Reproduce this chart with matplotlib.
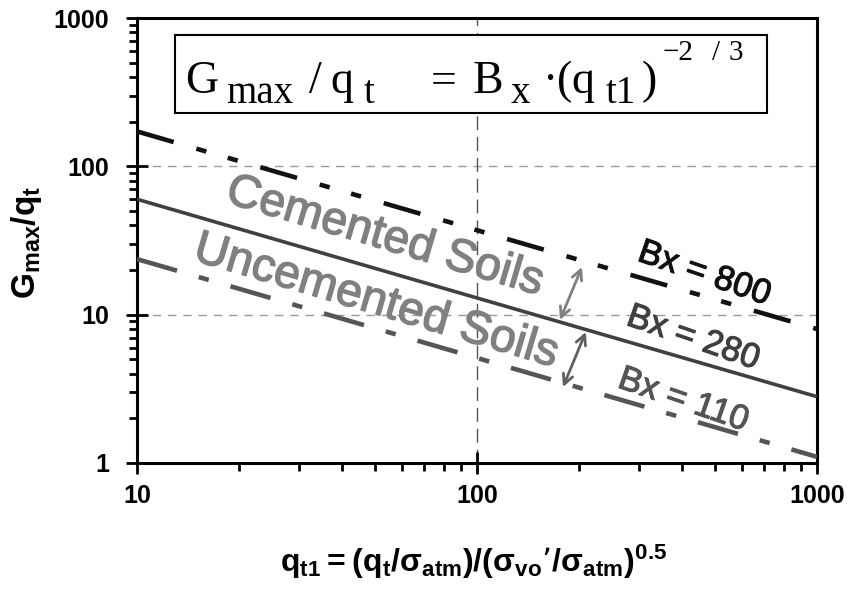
import matplotlib
matplotlib.use("Agg")
import matplotlib.pyplot as plt
import matplotlib.patheffects as pe
from matplotlib.patches import Rectangle
from matplotlib.ticker import LogLocator, NullFormatter, FixedLocator, FixedFormatter

plt.rcParams['lines.scale_dashes'] = False
plt.rcParams['font.family'] = ['Liberation Sans', 'DejaVu Sans']

# ---- data ----
q_t1 = [10, 1000]
gq_800 = [172, 8.0]
gq_280 = [60, 2.8]
gq_110 = [23.7, 1.1]
x_ticks = [10, 100, 1000]
x_ticklabels = ["10", "100", "1000"]
y_ticks = [1, 10, 100, 1000]
y_ticklabels = ["1", "10", "100", "1000"]

W, H = 851, 592
fig = plt.figure(figsize=(W/100, H/100), dpi=100)
ax = fig.add_axes([137/W, 1-463/H, 680/W, 445/H])
ax.set_xscale('log'); ax.set_yscale('log')
ax.set_xlim(10, 1000); ax.set_ylim(1, 1000)

def ftxt(x, y, s, **kw):
    kw.setdefault('ha', 'left'); kw.setdefault('va', 'baseline')
    return fig.text(x/W, 1-y/H, s, **kw)

# grid lines
for yv in [10, 100]:
    ax.axhline(yv, color='#9a9a9a', lw=1.0, ls=(0, (6, 5)), zorder=1)
ax.axvline(100, color='#555555', lw=1.0, ls=(0, (10, 5)), zorder=1)

# lines
ax.plot(q_t1, gq_800, color='#111111', lw=3.3, dash_capstyle='butt',
        ls=(0, (27.5, 17, 7.5, 16, 7.5, 17)), zorder=3)
ax.plot(q_t1, gq_280, color='#404040', lw=2.6, solid_capstyle='butt', zorder=3)
ax.plot(q_t1, gq_110, color='#555555', lw=3.3, dash_capstyle='butt',
        ls=(0, (30, 16.3, 7.5, 16.3)), zorder=3)

# labels on lines
def thick(c, w):
    return [pe.withStroke(linewidth=w, foreground=c)]
ax.text(53.6, 33.4, "Cemented Soils", color='#808080', fontsize=33.5,
        rotation=-16.5, rotation_mode='anchor', ha='center', va='center', zorder=4,
        path_effects=thick('#808080', 1.0))
ax.text(50.5, 12.2, "Uncemented Soils", color='#808080', fontsize=33.5,
        rotation=-16.5, rotation_mode='anchor', ha='center', va='center', zorder=4,
        path_effects=thick('#808080', 1.0))
ax.text(467, 18.9, "Bx = 800", color='#111111', fontsize=25,
        rotation=-19, rotation_mode='anchor', ha='center', va='center', zorder=4,
        path_effects=thick('#111111', 0.8))
ax.text(433, 6.97, "Bx = 280", color='#404040', fontsize=25,
        rotation=-19, rotation_mode='anchor', ha='center', va='center', zorder=4,
        path_effects=thick('#404040', 0.8))
ax.text(405, 2.66, "Bx = 110", color='#555555', fontsize=25,
        rotation=-19, rotation_mode='anchor', ha='center', va='center', zorder=4,
        path_effects=thick('#555555', 0.8))

# arrows
ax.annotate("", xy=(203.6, 20.97), xytext=(175.4, 9.21),
            arrowprops=dict(arrowstyle='<->', color='#808080', lw=2, mutation_scale=18,
                            shrinkA=0, shrinkB=0), zorder=5)
ax.annotate("", xy=(209, 7.65), xytext=(179, 3.25),
            arrowprops=dict(arrowstyle='<->', color='#606060', lw=2, mutation_scale=18,
                            shrinkA=0, shrinkB=0), zorder=5)

# equation box
ax.add_patch(Rectangle((175/W, 1-113/H), 592/W, 78/H, transform=fig.transFigure,
                       facecolor='white', edgecolor='black', lw=1.5, zorder=6,
                       clip_on=False))
serif = dict(family='Liberation Serif', color='black', zorder=7)
MAIN, SUB, SUP = 33, 28, 21
ftxt(185, 93, "G", fontsize=MAIN, **serif)
ftxt(226, 103, "max", fontsize=SUB, **serif)
ftxt(309, 93, "/", fontsize=MAIN, **serif)
ftxt(330, 93, "q", fontsize=MAIN, **serif)
ftxt(364, 103, "t", fontsize=SUB, **serif)
ftxt(431, 93, "=", fontsize=MAIN, **serif)
ftxt(473, 93, "B", fontsize=MAIN, **serif)
ftxt(511, 103, "x", fontsize=SUB, **serif)
ftxt(550, 93, "·", fontsize=MAIN, ha='center', **serif)
ftxt(557, 93, "(", fontsize=MAIN, **serif)
ftxt(571, 93, "q", fontsize=MAIN, **serif)
ftxt(606, 103, "t1", fontsize=SUB, **serif)
ftxt(642, 93, ")", fontsize=MAIN, **serif)
ftxt(663, 60, "\u22122", fontsize=SUP, **serif)
ftxt(712, 60, "/", fontsize=SUP, **serif)
ftxt(729, 60, "3", fontsize=SUP, **serif)

# spines & ticks
for s in ax.spines.values():
    s.set_linewidth(2.2)
    s.set_color('black')
ax.xaxis.set_major_locator(FixedLocator(x_ticks))
ax.xaxis.set_major_formatter(FixedFormatter(x_ticklabels))
ax.yaxis.set_major_locator(FixedLocator(y_ticks))
ax.yaxis.set_major_formatter(FixedFormatter(y_ticklabels))
ax.xaxis.set_minor_locator(LogLocator(base=10, subs=range(2, 10)))
ax.yaxis.set_minor_locator(LogLocator(base=10, subs=range(2, 10)))
ax.xaxis.set_minor_formatter(NullFormatter())
ax.yaxis.set_minor_formatter(NullFormatter())
ax.tick_params(which='major', direction='inout', length=16, width=2, labelsize=18)
ax.tick_params(axis='y', which='major', pad=12)
ax.tick_params(axis='x', which='major', pad=7)
ax.tick_params(which='minor', direction='out', length=6, width=2)
for lab in ax.get_xticklabels() + ax.get_yticklabels():
    lab.set_fontweight('bold')

# axis titles
ftxt(27, 242, r"$\mathregular{G_{max}/q_t}$", fontsize=24, fontweight='bold',
     rotation=90, ha='center', va='center')
ftxt(474, 572, r"$\mathregular{q_{t1} = (q_t/σ_{atm})/(σ_{vo}’/σ_{atm})^{0.5}}$",
     fontsize=23, fontweight='bold', ha='center', va='baseline')

fig.savefig("out.png", dpi=100)
